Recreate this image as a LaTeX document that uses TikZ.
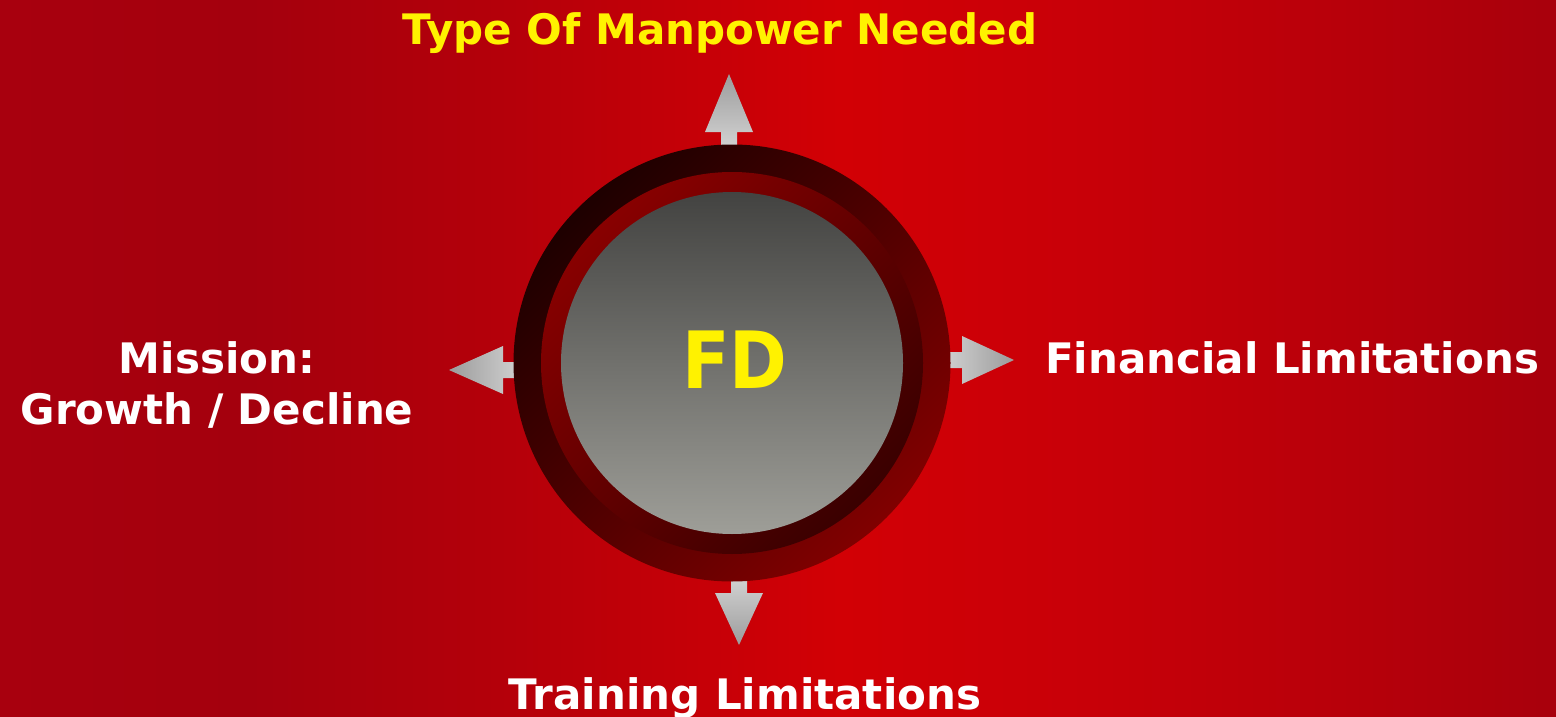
\documentclass[tikz,border=0pt]{standalone}
\usepackage{fontspec}
\setmainfont{DejaVu Sans}
\newfontfamily\fdfont{DejaVu Sans}[FakeStretch=0.88]

\definecolor{wallA}{HTML}{A8000E}
\definecolor{wallB}{HTML}{A4000D}
\definecolor{wallC}{HTML}{B4000A}
\definecolor{wallD}{HTML}{D20005}
\definecolor{wallE}{HTML}{C80008}
\definecolor{wallF}{HTML}{B8000A}
\definecolor{wallG}{HTML}{A8000C}
\definecolor{rimdark}{HTML}{1E0000}
\definecolor{rimlight}{HTML}{800000}
\definecolor{banddark}{HTML}{3A0000}
\definecolor{bandlight}{HTML}{880000}
\definecolor{disctop}{HTML}{434341}
\definecolor{discbottom}{HTML}{9E9E98}
\definecolor{arrowtip}{HTML}{9C9C9C}
\definecolor{arrowbase}{HTML}{D4D4D4}

\pgfdeclarehorizontalshading{redwall}{100bp}{color(0bp)=(wallA); color(25bp)=(wallA); color(33bp)=(wallB); color(41bp)=(wallC); color(52bp)=(wallD); color(60bp)=(wallE); color(68bp)=(wallF); color(75bp)=(wallG); color(100bp)=(wallG)}

\begin{document}
\begin{tikzpicture}[x=1pt,y=-1pt,
  txt/.style={font=\bfseries\fontsize{42}{51}\selectfont,text=white,inner sep=0pt},
  pointer/.style={top color=arrowtip,bottom color=arrowbase},
  ring/.style={circle,inner sep=0pt}]
\def\cx{732}
\def\cy{363}
\useasboundingbox (0,0) rectangle (1556,717);
\shade[shading=redwall] (0,0) rectangle (1556,717);
% the four pointers, drawn first so the disc hides their stems
\shade[pointer] (721,150) -- (721,132) -- (705,132) -- (729,74) -- (753,132) -- (737,132) -- (737,150) -- cycle;
\shade[pointer,shading angle=180] (731,575) -- (731,593) -- (715,593) -- (739,645) -- (763,593) -- (747,593) -- (747,575) -- cycle;
\shade[pointer,shading angle=-90] (940,352) -- (962,352) -- (962,336) -- (1014,360) -- (962,384) -- (962,368) -- (940,368) -- cycle;
\shade[pointer,shading angle=90] (525,362) -- (503,362) -- (503,346) -- (449,370) -- (503,394) -- (503,378) -- (525,378) -- cycle;
% disc with its two rims
\node[ring,minimum size=437,top color=rimdark,bottom color=rimlight,shading angle=45] (rim) at (\cx,\cy) {};
\node[ring,minimum size=382,top color=bandlight,bottom color=banddark,shading angle=45] (band) at (\cx,\cy) {};
\node[ring,minimum size=342,top color=disctop,bottom color=discbottom] (disc) at (\cx,\cy) {};
\node[txt,text=yellow,font=\fdfont\bfseries\fontsize{79}{80}\selectfont,anchor=base] (fd) at (735,388) {FD};
% labels
\node[txt,text=yellow,anchor=base] (need) at (720,45) {Type Of Manpower Needed};
\node[txt,anchor=base west] (money) at (1045,373) {Financial Limitations};
\node[txt,anchor=base,align=center] (mission) at (217,424) {Mission:\\Growth / Decline};
\node[txt,anchor=base] (train) at (745,709) {Training Limitations};
\end{tikzpicture}
\end{document}
